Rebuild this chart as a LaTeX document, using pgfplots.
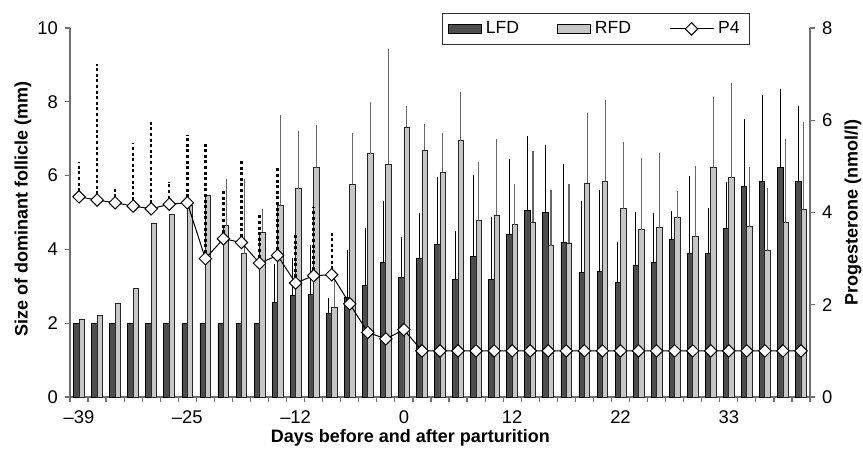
\documentclass[border=0pt]{standalone}
\usepackage{fontspec}
\setmainfont{Liberation Sans}
\usepackage{pgfplots}
\usepackage{pgfplotstable}
\pgfplotsset{compat=1.18}

\definecolor{lfdfill}{HTML}{4D4D4D}
\definecolor{rfdfill}{HTML}{C6C6C6}
\definecolor{axgray}{HTML}{707070}

% follicle size (mm): value and upper SD
\pgfplotstableread{
x lfd lfde rfd rfde
0 2.00 0 2.11 0
1 2.00 0 2.20 0
2 2.00 0 2.54 0
3 2.00 0 2.93 0
4 2.00 0 4.70 0
5 2.00 0 4.94 0
6 2.00 0 5.20 0
7 2.00 0 5.46 0
8 2.00 0 4.64 1.27
9 2.00 0 3.88 2.03
10 2.00 0 4.46 0.63
11 2.57 1.03 5.18 2.47
12 2.75 1.02 5.64 1.58
13 2.77 1.36 6.21 1.15
14 2.26 0.42 2.44 0.83
15 2.69 1.30 5.76 1.39
16 3.02 1.56 6.59 1.40
17 3.66 1.66 6.31 3.13
18 3.24 1.10 7.31 0.57
19 3.75 1.24 6.69 0.71
20 4.14 1.81 6.10 1.05
21 3.18 1.33 6.95 1.32
22 3.80 2.21 4.78 1.59
23 3.18 1.71 4.92 2.08
24 4.41 2.05 4.67 1.10
25 5.05 2.01 4.74 1.93
26 4.99 1.83 4.10 1.52
27 4.20 2.11 4.16 1.61
28 3.38 1.94 5.80 1.90
29 3.41 2.21 5.85 2.21
30 3.11 1.09 5.10 1.81
31 3.57 1.44 4.53 1.96
32 3.66 1.33 4.59 2.02
33 4.26 0.79 4.86 0.73
34 3.90 2.08 4.34 1.91
35 3.90 1.22 6.21 1.91
36 4.56 1.27 5.94 2.57
37 5.70 1.84 4.62 1.60
38 5.85 2.33 3.96 1.70
39 6.21 2.15 4.72 2.28
40 5.85 2.03 5.09 2.36
}\follicles

% progesterone (nmol/l): value and upper SD
\pgfplotstableread{
x p4 p4e
0 4.34 0.76
1 4.27 2.96
2 4.21 0.32
3 4.14 1.37
4 4.08 1.91
5 4.18 0.49
6 4.21 1.48
7 3.00 2.51
8 3.43 1.07
9 3.35 1.80
10 2.90 1.05
11 3.07 1.93
12 2.47 1.05
13 2.63 1.50
14 2.65 0.91
15 2.02 0
16 1.40 0
17 1.26 0
18 1.46 0
19 1.00 0
20 1.00 0
21 1.00 0
22 1.00 0
23 1.00 0
24 1.00 0
25 1.00 0
26 1.00 0
27 1.00 0
28 1.00 0
29 1.00 0
30 1.00 0
31 1.00 0
32 1.00 0
33 1.00 0
34 1.00 0
35 1.00 0
36 1.00 0
37 1.00 0
38 1.00 0
39 1.00 0
40 1.00 0
}\progesterone

\pgfplotsset{
  base/.style={
    scale only axis, width=370pt, height=184.5pt,
    at={(0,0)}, anchor=south west,
    xmin=-0.5, xmax=40.5,
    ymin=0,
    /pgf/number format/assume math mode=true,
    tick align=outside,
    major tick length=2.5pt, minor tick length=2.5pt,
    axis line style={axgray, line width=0.6pt},
    tick style={axgray, line width=0.6pt},
    tick label style={font=\fontsize{9.2}{10}\selectfont},
    label style={font=\bfseries\fontsize{9}{11}\selectfont},
    clip=false,
  },
  barlegend/.style={legend image code/.code={
    \draw[##1] (0pt,-2.1pt) rectangle (16.5pt,2.1pt);}},
  linelegend/.style={legend image code/.code={
    \draw[mark repeat=2, mark phase=2, ##1]
      plot coordinates {(0pt,0pt) (11pt,0pt) (22pt,0pt)};}},
}

\begin{document}
\begin{tikzpicture}
\useasboundingbox (-35pt,-29pt) rectangle (396.5pt,198.5pt);

\begin{axis}[base,
  ymax=10, ytick={0,2,...,10},
  axis x line*=bottom, axis y line*=left,
  xtick={0,6,12,18,24,30,36},
  xticklabels={–39,–25,–12,0,12,22,33},
  minor xtick={-0.5,0.5,...,40.5},
  major x tick style={draw=none},
  xticklabel style={yshift=-1pt},
  ybar=0pt, bar width=0.3,
  xlabel={Days before and after parturition},
  ylabel={Size of dominant follicle (mm)},
  xlabel style={at={(axis description cs:0.46,-0.11)}, anchor=center},
  ylabel style={at={(axis description cs:-0.0635,0.51)}, anchor=center},
]
\addplot[fill=lfdfill, draw=black, line width=0.4pt,
  error bars/.cd, y dir=plus, y explicit, error mark=none,
  error bar style={black, line width=0.5pt}]
  table[x=x, y=lfd, y error=lfde] {\follicles};
\addplot[fill=rfdfill, draw=black!85, line width=0.4pt,
  error bars/.cd, y dir=plus, y explicit, error mark=none,
  error bar style={black!60, line width=0.55pt}]
  table[x=x, y=rfd, y error=rfde] {\follicles};
\end{axis}

\begin{axis}[base,
  ymax=8, ytick={0,2,...,8},
  axis y line*=right, axis x line=none,
  ylabel={Progesterone (nmol/l)},
  ylabel style={at={(axis description cs:1.058,0.5)}, anchor=center},
  legend columns=3,
  legend style={at={(0.919,1.041)}, anchor=north east,
    draw=black!80, line width=0.5pt,
    font=\fontsize{8.8}{10}\selectfont,
    inner xsep=3pt, inner ysep=2pt,
    /tikz/every even column/.append style={column sep=17pt}},
]
\addlegendimage{barlegend, fill=lfdfill, draw=black, line width=0.4pt}
\addlegendentry{LFD}
\addlegendimage{barlegend, fill=rfdfill, draw=black, line width=0.4pt}
\addlegendentry{RFD}
\addplot[linelegend, black, line width=0.5pt, mark=square*,
  mark size=2.2pt, mark options={fill=white, rotate=45, line width=0.5pt},
  error bars/.cd, y dir=plus, y explicit, error mark=none,
  error bar style={black, line width=1.2pt, dash pattern=on 1.5pt off 1.3pt}]
  table[x=x, y=p4, y error=p4e] {\progesterone};
\addlegendentry{P4}
\end{axis}
\end{tikzpicture}
\end{document}
